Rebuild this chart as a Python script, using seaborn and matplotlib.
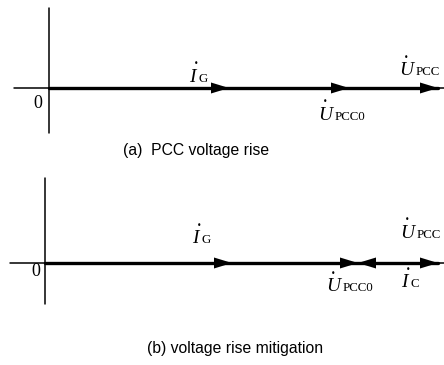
import matplotlib
matplotlib.use("Agg")
import matplotlib.pyplot as plt
import seaborn as sns

# ---- data: phasor tip positions along the real axis (same unit both panels)
a_names = ["I_G", "U_PCC0", "U_PCC"]
a_tips = [180, 300, 389]
b_names = ["I_G", "U_PCC0", "U_PCC"]
b_tips = [187, 313, 393]
b_ic = [331, 313]          # I_C phasor: start -> tip (points back)
captions = ["(a)  PCC voltage rise", "(b) voltage rise mitigation"]
label_parts = {
    "I_G": ("I", "G"),
    "U_PCC0": ("U", "PCC0"),
    "U_PCC": ("U", "PCC"),
    "I_C": ("I", "C"),
}

sns.set_style("white")
plt.rcParams["font.family"] = ["Liberation Serif", "DejaVu Sans"]
plt.rcParams["text.color"] = "black"

W, H = 444, 365
fig = plt.figure(figsize=(W / 100, H / 100), dpi=100)

HL, HW = 18, 5.5   # arrow head length / half width
LW_AX, LW_PH = 1.1, 2.4


def head(ax, tip, direction=1):
    ax.fill([tip, tip - direction * HL, tip - direction * HL],
            [0, HW, -HW], color="black", lw=0, clip_on=False, zorder=4)


def phasor_label(ax, x, y, key):
    letter, sub = label_parts[key]
    ax.text(x, y, letter, fontsize=14, style="italic", color="black",
            family="Liberation Serif", ha="left", va="baseline")
    dot_dx = 7
    sub_dx = 17 if letter == "U" else 9
    ax.annotate("\u2022", (x, y), xytext=(dot_dx, 18), textcoords="offset pixels",
                fontsize=5.5, ha="center", va="center", color="black",
                family="DejaVu Sans")
    ax.annotate(sub, (x, y), xytext=(sub_dx, 0), textcoords="offset pixels",
                fontsize=9.3, ha="left", va="baseline", color="black",
                family="Liberation Serif")


def panel(ax, tips, vtop, vbot, xleft, xright, zero_xy, label_pos, ic=None):
    ax.set_axis_off()
    sns.lineplot(x=[xleft, xright], y=[0, 0], ax=ax, color="black", lw=LW_AX)
    sns.lineplot(x=[0, 0], y=[vbot, vtop], ax=ax, color="black", lw=LW_AX,
                 orient="y")
    sns.lineplot(x=[0, max(tips)], y=[0, 0], ax=ax, color="black", lw=LW_PH)
    for t in tips:
        head(ax, t, 1)
    if ic is not None:
        head(ax, ic[1], -1)
    for line in ax.lines:
        line.set_clip_on(False)
    ax.text(*zero_xy, "0", fontsize=13, ha="center", va="center",
            color="black", family="Liberation Serif")
    for key, (x, y) in label_pos.items():
        phasor_label(ax, x, y, key)


# top panel: rows 0..182, origin at pixel (49, 88)
ax1 = fig.add_axes([0, (H - 182) / H, 1, 182 / H])
ax1.set_xlim(-49, W - 49)
ax1.set_ylim(-(182 - 88), 88)
panel(ax1, a_tips, 80, -45, -35, W - 49, (-11, -16),
      {"I_G": (140, 6), "U_PCC": (350, 13), "U_PCC0": (269, -32)})

# bottom panel: rows 182..365, origin at pixel (45, 263)
ax2 = fig.add_axes([0, 0, 1, 183 / H])
ax2.set_xlim(-45, W - 45)
ax2.set_ylim(-(183 - 81), 81)
panel(ax2, b_tips, 85, -41, -35, W - 45, (-9, -8),
      {"I_G": (147, 20), "U_PCC": (355, 25), "U_PCC0": (281, -28),
       "I_C": (356, -24)}, ic=b_ic)

fig.text(196 / W, 1 - 150 / H, captions[0], ha="center", va="center",
         fontsize=11.3, color="black", family="Liberation Sans")
fig.text(235 / W, 1 - 348 / H, captions[1], ha="center", va="center",
         fontsize=11.3, color="black", family="Liberation Sans")

fig.savefig("out.png", dpi=100)
